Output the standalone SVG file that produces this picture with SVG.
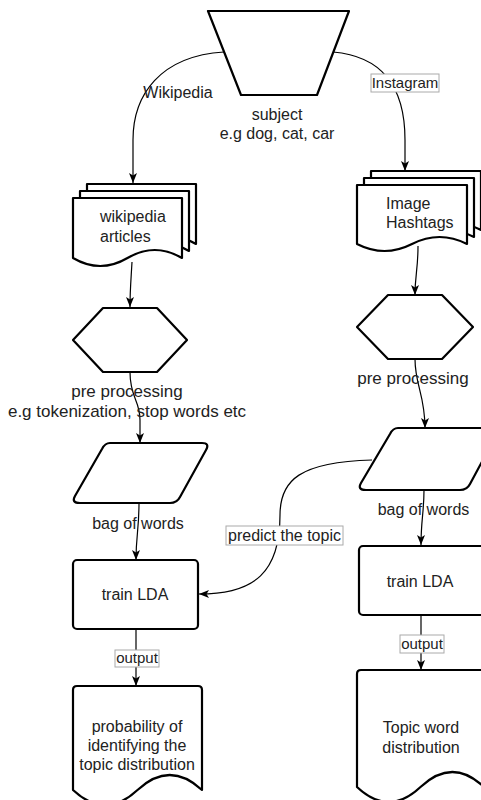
<svg xmlns="http://www.w3.org/2000/svg" width="481" height="800" viewBox="0 0 481 800">
  <defs>
    <marker id="arrow" markerUnits="userSpaceOnUse" markerWidth="10" markerHeight="10" viewBox="0 0 10 10" refX="10" refY="5" orient="auto">
      <path d="M0,1 L10,5 L0,9 L2.5,5 Z" fill="#000"/>
    </marker>
  </defs>
  <style>
    .shape { fill: #fff; stroke: #000; stroke-width: 2.2; stroke-linejoin: round; }
    .edge { fill: none; stroke: #000; stroke-width: 1.2; marker-end: url(#arrow); }
    .txt { font-family: "Liberation Sans", Arial, sans-serif; font-size: 16px; fill: #222; }
    .mid { text-anchor: middle; }
    .lbox { fill: #fff; stroke: #aaa; stroke-width: 1; }
  </style>
  <rect width="481" height="800" fill="#fff"/>

  <!-- connectors -->
  <g id="connectors">
    <path class="edge" d="M224,52 C160,56 133,95 133,140 L133,183"/>
    <path class="edge" d="M333,52 C380,56 405,85 405,140 L405,171"/>
    <path class="edge" d="M132,262 C131,280 130,290 130,307"/>
    <path class="edge" d="M418,246 C418,270 415,275 415,295"/>
    <path class="edge" d="M130,372 C130,398 140,400 140,420 L140,443"/>
    <path class="edge" d="M415,359 C415,385 425,395 425,428"/>
    <path class="edge" d="M139,503 C139,530 136,535 136,560"/>
    <path class="edge" d="M424,490 C424,512 421,520 421,545"/>
    <path class="edge" d="M372,460 C300,462 280,480 280,515 C280,572 255,594 199,594"/>
    <path class="edge" d="M136,629 L136,686"/>
    <path class="edge" d="M421,615 L421,670"/>
  </g>

  <!-- edge labels -->
  <g id="edge-labels">
    <text class="txt mid" x="178" y="98">Wikipedia</text>
    <rect class="lbox" x="371" y="74" width="68" height="18"/>
    <text class="txt mid" x="405" y="88" style="font-size:15px">Instagram</text>
    <rect class="lbox" x="226" y="526" width="117" height="19"/>
    <text class="txt mid" x="284.5" y="541">predict the topic</text>
    <rect class="lbox" x="115" y="650" width="44" height="17"/>
    <text class="txt mid" x="137" y="663" style="font-size:15px">output</text>
    <rect class="lbox" x="400" y="635" width="44" height="18"/>
    <text class="txt mid" x="422" y="649" style="font-size:15px">output</text>
  </g>

  <!-- subject (manual input trapezoid) -->
  <g id="subject">
    <polygon class="shape" points="208,11 349,11 317,95 241,95"/>
    <text class="txt mid" x="277" y="120">subject</text>
    <text class="txt mid" x="277" y="139">e.g dog, cat, car</text>
  </g>

  <!-- wikipedia articles (multi-document) -->
  <g id="wiki-articles">
    <path class="shape" d="M87,184 H196 V244 Q168.75,228 141.5,244 Q114.25,260 87,244 Z"/>
    <path class="shape" d="M80,191 H189 V251 Q161.75,235 134.5,251 Q107.25,267 80,251 Z"/>
    <path class="shape" d="M73,198 H182 V258 Q154.75,242 127.5,258 Q100.25,274 73,258 Z"/>
    <text class="txt" x="100" y="222">wikipedia</text>
    <text class="txt" x="100" y="242">articles</text>
  </g>

  <!-- image hashtags (multi-document) -->
  <g id="image-hashtags">
    <path class="shape" d="M371,171 H481 V230 Q453.5,216 426,230 Q398.5,244 371,230 Z"/>
    <path class="shape" d="M364,178 H474 V237 Q446.5,223 419,237 Q391.5,251 364,237 Z"/>
    <path class="shape" d="M357,185 H467 V244 Q439.5,230 412,244 Q384.5,258 357,244 Z"/>
    <text class="txt" x="386" y="209">Image</text>
    <text class="txt" x="386" y="228">Hashtags</text>
  </g>

  <!-- preparation hexagons -->
  <g id="prep-wiki">
    <polygon class="shape" points="73,340 103,308 157,308 187,340 157,372 103,372"/>
  </g>
  <g id="prep-insta">
    <polygon class="shape" points="357,327 388,295 442,295 473,327 442,359 388,359"/>
  </g>

  <!-- texts under hexagons (drawn over the connectors) -->
  <g id="prep-text">
    <text class="txt mid" x="127" y="397" style="font-size:17px">pre processing</text>
    <text class="txt mid" x="127" y="417" style="font-size:17px">e.g tokenization, stop words etc</text>
    <text class="txt mid" x="413" y="384" style="font-size:17px">pre processing</text>
  </g>

  <!-- bag of words (data parallelograms) -->
  <g id="bow-wiki">
    <path class="shape" d="M110,443 H202 Q210,443 206,450 L180,497 Q177,503 170,503 H80 Q71,503 75,496 L102,449 Q105,443 110,443 Z"/>
    <text class="txt mid" x="138" y="529">bag of words</text>
  </g>
  <g id="bow-insta">
    <path class="shape" d="M398,428 H500 L470,484 Q467,490 460,490 H366 Q357,490 361,483 L390,434 Q393,428 398,428 Z"/>
    <text class="txt mid" x="423.5" y="515">bag of words</text>
  </g>

  <!-- train LDA processes -->
  <g id="lda-wiki">
    <rect class="shape" x="73" y="560" width="125" height="69" rx="4"/>
    <text class="txt mid" x="135" y="600">train LDA</text>
  </g>
  <g id="lda-insta">
    <rect class="shape" x="359" y="546" width="126" height="69" rx="4"/>
    <text class="txt mid" x="420" y="587">train LDA</text>
  </g>

  <!-- results (documents) -->
  <g id="result-wiki">
    <path class="shape" d="M77,686 H198 Q202,686 202,690 V790 Q169.75,760 137.5,790 Q105.25,820 73,790 V690 Q73,686 77,686 Z"/>
    <text class="txt mid" x="137" y="732">probability of</text>
    <text class="txt mid" x="137" y="751">identifying the</text>
    <text class="txt mid" x="137" y="770">topic distribution</text>
  </g>
  <g id="result-insta">
    <path class="shape" d="M361,670 H484 V787 Q452.5,757 420.5,787 Q388.75,817 357,787 V674 Q357,670 361,670 Z"/>
    <text class="txt mid" x="421" y="733">Topic word</text>
    <text class="txt mid" x="421" y="753">distribution</text>
  </g>
</svg>
